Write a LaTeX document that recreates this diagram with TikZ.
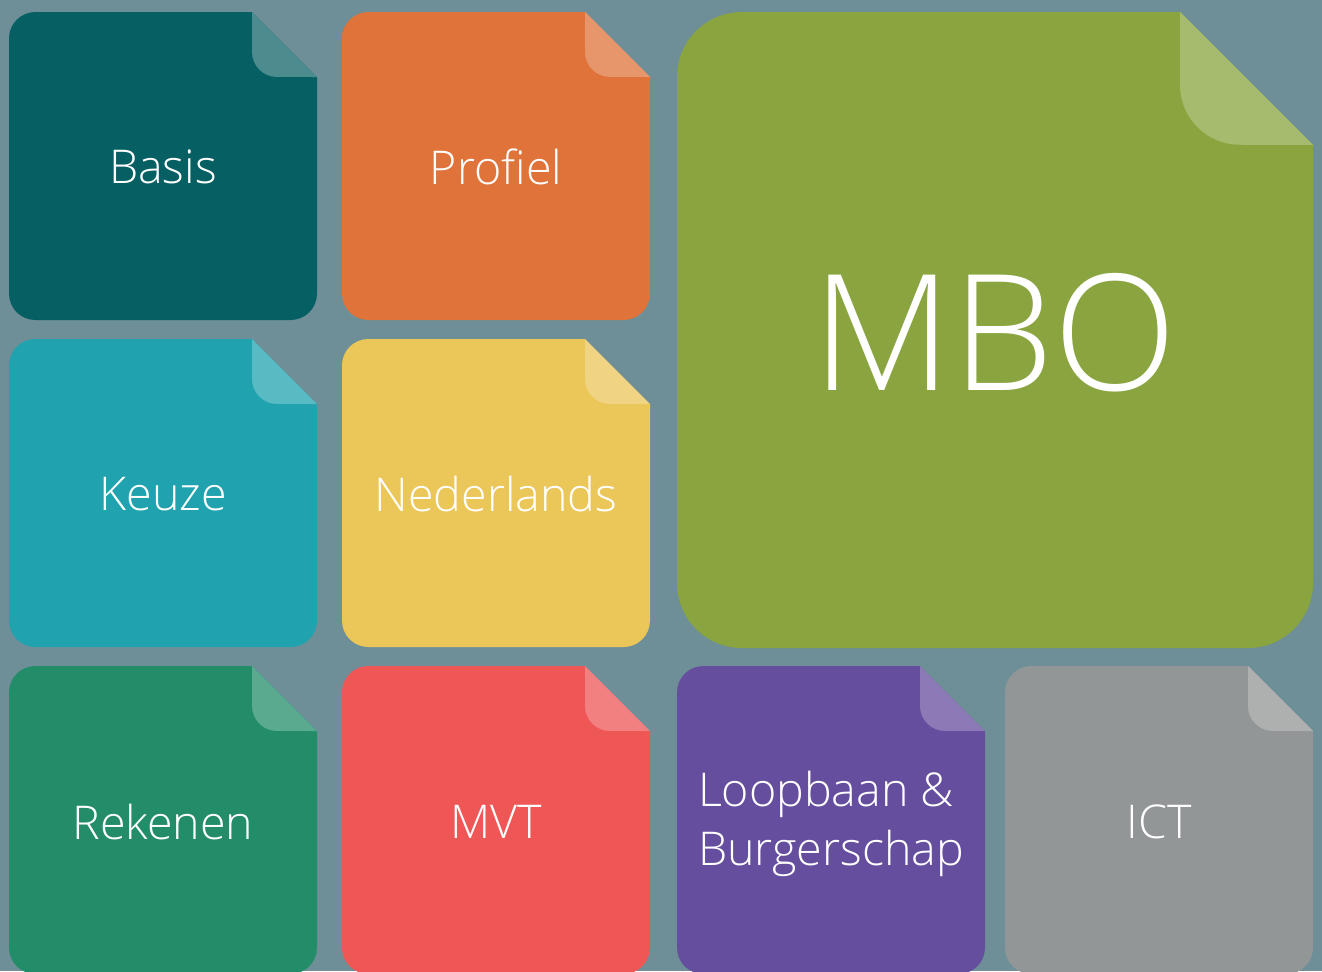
\documentclass[tikz,border=0pt]{standalone}
\usepackage{fontspec}
\setmainfont{Open Sans Light}
\definecolor{achtergrond}{HTML}{6E8F97}
\definecolor{basis}{HTML}{065F63}
\definecolor{profiel}{HTML}{DF733A}
\definecolor{mbo}{HTML}{8AA53F}
\definecolor{keuze}{HTML}{21A3AF}
\definecolor{nederlands}{HTML}{EBC659}
\definecolor{rekenen}{HTML}{228D68}
\definecolor{mvt}{HTML}{EF5656}
\definecolor{loopbaan}{HTML}{654E9E}
\definecolor{ict}{HTML}{939696}

\begin{document}
\begin{tikzpicture}[x=0.02cm,y=-0.02cm,
  tegel/.style={rounded corners=15pt},
  grotetegel/.style={rounded corners=37pt},
  vak/.style={text=white,inner sep=0pt,font=\fontsize{26.5}{34}\selectfont}]
\fill[achtergrond] (0,0) rectangle (1322,971);
\clip (0,0) rectangle (1322,971);

% rij 1
\fill[basis,tegel] (9,12) rectangle (317,320);
\fill[achtergrond] (250,10) -- (319,10) -- (319,79) -- cycle;
\fill[basis!72!white] (252,12) -- (252,52) arc[start angle=180,end angle=270,radius=14.2pt] -- (317,77) -- cycle;
\node[vak] (basistxt) at (163,167) {Basis};

\fill[profiel,tegel] (342,12) rectangle (650,320);
\fill[achtergrond] (583,10) -- (652,10) -- (652,79) -- cycle;
\fill[profiel!75!white] (585,12) -- (585,52) arc[start angle=180,end angle=270,radius=14.2pt] -- (650,77) -- cycle;
\node[vak] (profieltxt) at (496,167) {Profiel};

\fill[mbo,grotetegel] (677,12) rectangle (1313,648);
\fill[achtergrond] (1178,10) -- (1315,10) -- (1315,147) -- cycle;
\fill[mbo!75!white] (1180,12) -- (1180,85) arc[start angle=180,end angle=270,radius=34pt] -- (1313,145) -- cycle;
\node[vak,font=\fontsize{92}{100}\selectfont] (mbotxt) at (995,333) {MBO};

% rij 2
\fill[keuze,tegel] (9,339) rectangle (317,647);
\fill[achtergrond] (250,337) -- (319,337) -- (319,406) -- cycle;
\fill[keuze!75!white] (252,339) -- (252,379) arc[start angle=180,end angle=270,radius=14.2pt] -- (317,404) -- cycle;
\node[vak] (keuzetxt) at (163,494) {Keuze};

\fill[nederlands,tegel] (342,339) rectangle (650,647);
\fill[achtergrond] (583,337) -- (652,337) -- (652,406) -- cycle;
\fill[nederlands!75!white] (585,339) -- (585,379) arc[start angle=180,end angle=270,radius=14.2pt] -- (650,404) -- cycle;
\node[vak] (nederlandstxt) at (496,494) {Nederlands};

% rij 3
\fill[rekenen,tegel] (9,666) rectangle (317,974);
\fill[achtergrond] (250,664) -- (319,664) -- (319,733) -- cycle;
\fill[rekenen!75!white] (252,666) -- (252,706) arc[start angle=180,end angle=270,radius=14.2pt] -- (317,731) -- cycle;
\node[vak] (rekenentxt) at (163,822) {Rekenen};

\fill[mvt,tegel] (342,666) rectangle (650,974);
\fill[achtergrond] (583,664) -- (652,664) -- (652,733) -- cycle;
\fill[mvt!75!white] (585,666) -- (585,706) arc[start angle=180,end angle=270,radius=14.2pt] -- (650,731) -- cycle;
\node[vak] (mvttxt) at (496,822) {MVT};

\fill[loopbaan,tegel] (677,666) rectangle (985,974);
\fill[achtergrond] (918,664) -- (987,664) -- (987,733) -- cycle;
\fill[loopbaan!75!white] (920,666) -- (920,706) arc[start angle=180,end angle=270,radius=14.2pt] -- (985,731) -- cycle;
\node[vak,align=left] (loopbaantxt) at (831,824) {Loopbaan \&\\Burgerschap};

\fill[ict,tegel] (1005,666) rectangle (1313,974);
\fill[achtergrond] (1246,664) -- (1315,664) -- (1315,733) -- cycle;
\fill[ict!75!white] (1248,666) -- (1248,706) arc[start angle=180,end angle=270,radius=14.2pt] -- (1313,731) -- cycle;
\node[vak] (icttxt) at (1159,822) {ICT};
\end{tikzpicture}
\end{document}
